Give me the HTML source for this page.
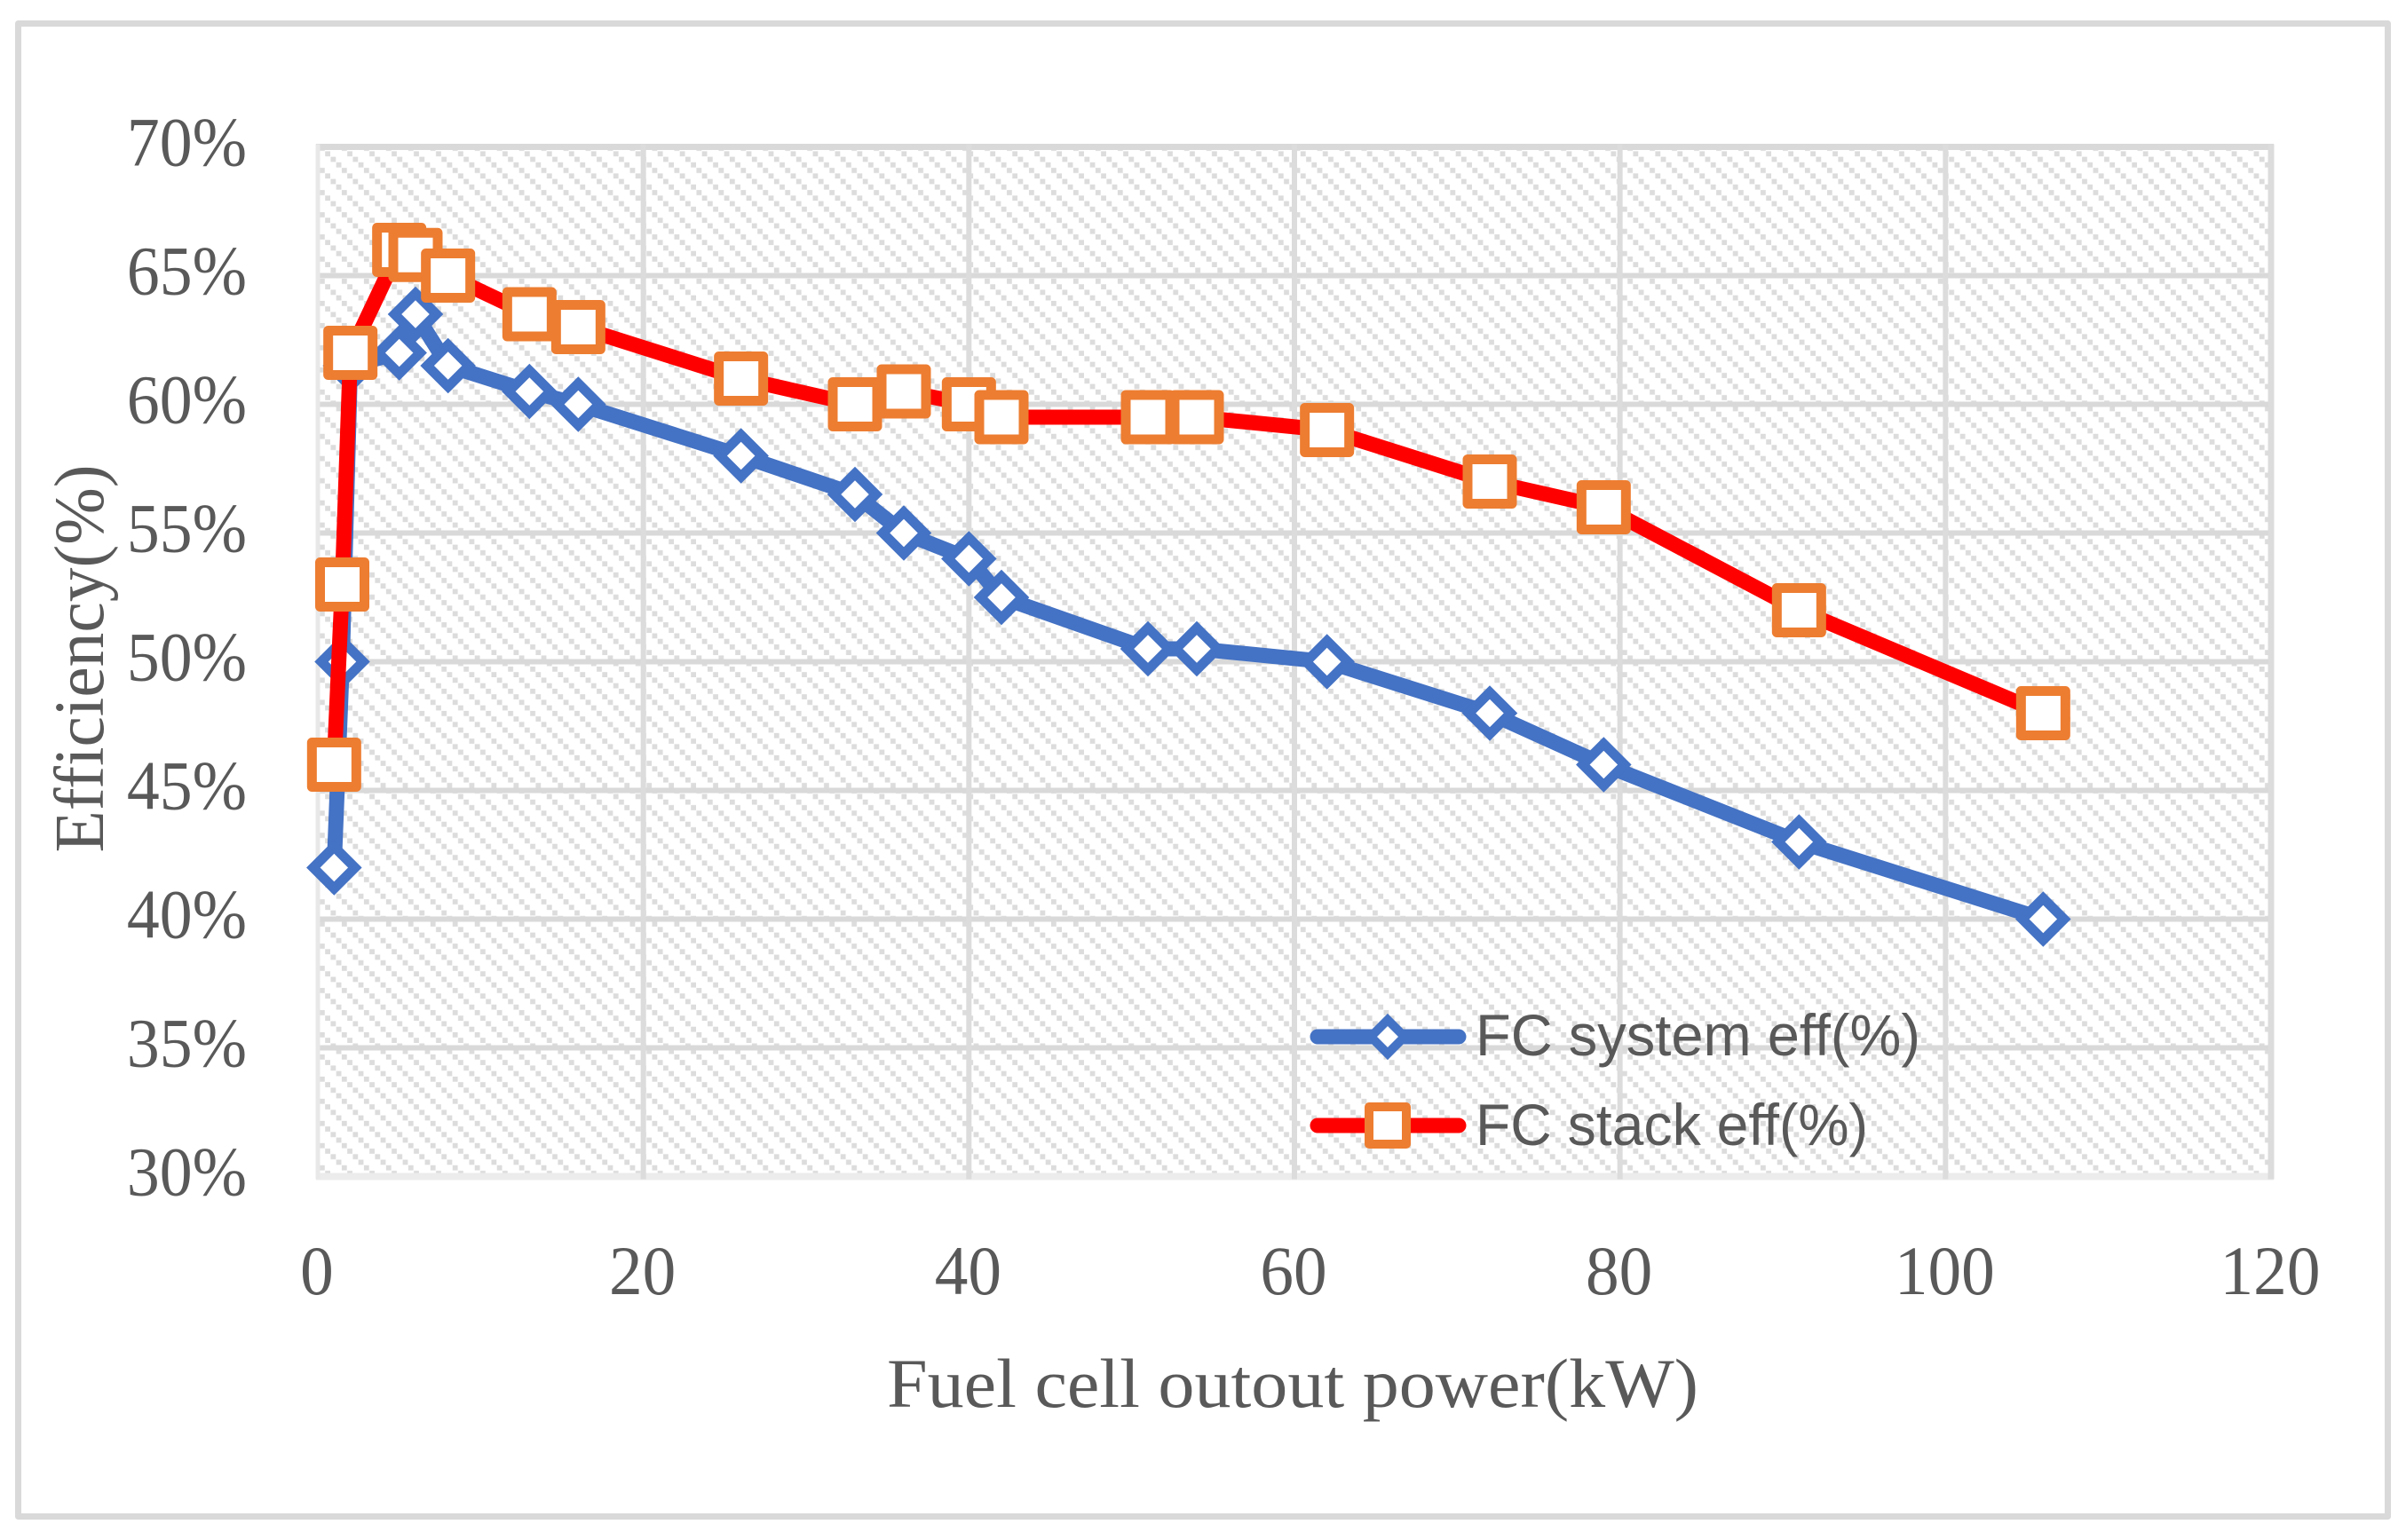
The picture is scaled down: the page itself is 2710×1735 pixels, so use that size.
<!DOCTYPE html>
<html lang="en">
<head>
<meta charset="utf-8">
<title>Fuel cell efficiency chart</title>
<style>
html,body{margin:0;padding:0;background:#fff;width:2710px;height:1735px;overflow:hidden}
svg{display:block}
.tick{font-family:"Liberation Serif",serif;font-size:78px;fill:#595959}
.title{font-family:"Liberation Serif",serif;fill:#595959}
.legend{font-family:"Liberation Sans",sans-serif;font-size:66px;fill:#595959}
</style>
</head>
<body>
<svg id="chart" xmlns="http://www.w3.org/2000/svg" width="2710" height="1735" viewBox="0 0 2710 1735">
  <defs>
    <pattern id="hatch" patternUnits="userSpaceOnUse" width="24.97" height="24.97" patternTransform="translate(366 170.2)">
      <rect x="0.2" y="0.2" width="5.8" height="5.8" fill="#dcdcdc"/>
      <rect x="6.44" y="6.44" width="5.8" height="5.8" fill="#dcdcdc"/>
      <rect x="12.68" y="12.68" width="5.8" height="5.8" fill="#dcdcdc"/>
      <rect x="18.92" y="18.92" width="5.8" height="5.8" fill="#dcdcdc"/>
    </pattern>
  </defs>
  <rect x="20.5" y="26.5" width="2669" height="1682" fill="#fff" stroke="#d9d9d9" stroke-width="7" stroke-linejoin="round"/>
  <rect x="358" y="165.5" width="2200" height="1160" fill="url(#hatch)"/>
  <g id="grid"></g>
  <g id="ticks"></g>
  <g id="series"></g>
  <text class="title" x="1456" y="1585" font-size="78" text-anchor="middle" textLength="914" lengthAdjust="spacingAndGlyphs">Fuel cell outout power(kW)</text>
  <text class="title" transform="translate(116 742) rotate(-90)" font-size="79" text-anchor="middle" textLength="437" lengthAdjust="spacingAndGlyphs">Efficiency(%)</text>
  <g>
    <g>
      <line x1="1484" y1="1168" x2="1643" y2="1168" stroke="#4472c4" stroke-width="17" stroke-linecap="round"/>
      <polygon points="1563,1149 1582,1168 1563,1187 1544,1168" fill="#fff" stroke="#4472c4" stroke-width="10"/>
      <text class="legend" x="1662" y="1189" textLength="501" lengthAdjust="spacingAndGlyphs">FC system eff(%)</text>
    </g>
    <g>
      <line x1="1484" y1="1268" x2="1643" y2="1268" stroke="#ff0000" stroke-width="17" stroke-linecap="round"/>
      <rect x="1542" y="1247" width="42" height="42" fill="#fff" stroke="#ed7d31" stroke-width="10" stroke-linejoin="round"/>
      <text class="legend" x="1662" y="1290" textLength="442" lengthAdjust="spacingAndGlyphs">FC stack eff(%)</text>
    </g>
  </g>
</svg>
<script>
const powerKw = [1, 1.5, 2, 5, 6, 8, 13, 16, 26, 33, 36, 40, 42, 51, 54, 62, 72, 79, 91, 106];
const systemEff = [42, 50, 61.5, 62, 63.5, 61.5, 60.5, 60, 58, 56.5, 55, 54, 52.5, 50.5, 50.5, 50, 48, 46, 43, 40];
const stackEff = [46, 53, 62, 66, 65.8, 65, 63.5, 63, 61, 60, 60.5, 60, 59.5, 59.5, 59.5, 59, 57, 56, 52, 48];
const xTicks = [0, 20, 40, 60, 80, 100, 120];
const yTicks = [30, 35, 40, 45, 50, 55, 60, 65, 70];

const NS = 'http://www.w3.org/2000/svg';
const plotLeft = 358, plotRight = 2558, plotTop = 165.5, plotBottom = 1325.5;
const xMin = 0, xMax = 120, yMin = 30, yMax = 70;
function xScale(v) { return plotLeft + (v - xMin) / (xMax - xMin) * (plotRight - plotLeft); }
function yScale(v) { return plotBottom - (v - yMin) / (yMax - yMin) * (plotBottom - plotTop); }
function make(tag, attrs, parent) {
  const el = document.createElementNS(NS, tag);
  for (const k in attrs) el.setAttribute(k, attrs[k]);
  parent.appendChild(el);
  return el;
}

const grid = document.getElementById('grid');
const ticks = document.getElementById('ticks');
const seriesGroup = document.getElementById('series');

yTicks.forEach(function (t) {
  const isTop = t === yMax, isBottom = t === yMin;
  const line = make('line', {
    x1: plotLeft - 2, x2: plotRight + 3, y1: yScale(t), y2: yScale(t),
    stroke: isBottom ? '#ececec' : '#d9d9d9', 'stroke-width': isTop ? 7 : (isBottom ? 8 : 6)
  }, grid);
  
  
  const label = make('text', { class: 'tick', x: 278, y: yScale(t) + 21, 'text-anchor': 'end' }, ticks);
  
  
  label.textContent = t + '%';
  label.setAttribute('textLength', label.getComputedTextLength() * 0.945);
  label.setAttribute('lengthAdjust', 'spacingAndGlyphs');
});

xTicks.forEach(function (t) {
  const isLeft = t === xMin, isRight = t === xMax;
  const line = make('line', {
    x1: xScale(t), x2: xScale(t), y1: plotTop - 3, y2: plotBottom + 3,
    stroke: isLeft ? '#e8e8e8' : '#dcdcdc', 'stroke-width': isLeft ? 5 : (isRight ? 7 : 6)
  }, grid);
  
  
  const label = make('text', { class: 'tick', x: xScale(t) - 1, y: 1458, 'text-anchor': 'middle' }, ticks);
  
  
  label.textContent = t;
  label.setAttribute('textLength', label.getComputedTextLength() * 0.965);
  label.setAttribute('lengthAdjust', 'spacingAndGlyphs');
});

function drawLine(values, color, name) {
  const pts = values.map(function (v, i) { return xScale(powerKw[i]) + ',' + yScale(v); }).join(' ');
  const line = make('polyline', {
    points: pts, fill: 'none', stroke: color, 'stroke-width': 17,
    'stroke-linejoin': 'round', 'stroke-linecap': 'round'
  }, seriesGroup);
  
  
}

drawLine(systemEff, '#4472c4', 'system-efficiency-line');
systemEff.forEach(function (v, i) {
  const cx = xScale(powerKw[i]), cy = yScale(v), d = 23.5;
  const m = make('polygon', {
    points: cx + ',' + (cy - d) + ' ' + (cx + d) + ',' + cy + ' ' + cx + ',' + (cy + d) + ' ' + (cx - d) + ',' + cy,
    fill: '#fff', stroke: '#4472c4', 'stroke-width': 11
  }, seriesGroup);
  
  
});

drawLine(stackEff, '#ff0000', 'stack-efficiency-line');
stackEff.forEach(function (v, i) {
  const cx = xScale(powerKw[i]), cy = yScale(v), s = 50;
  const m = make('rect', {
    x: cx - s / 2, y: cy - s / 2, width: s, height: s,
    fill: '#fff', stroke: '#ed7d31', 'stroke-width': 11, 'stroke-linejoin': 'round'
  }, seriesGroup);
  
  
});
</script>
</body>
</html>
